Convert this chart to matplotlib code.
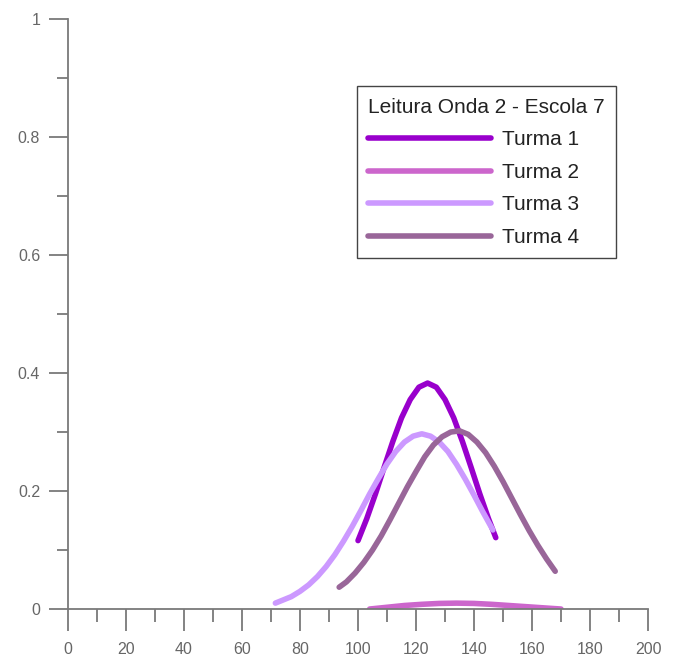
import matplotlib
matplotlib.use("Agg")
import matplotlib.pyplot as plt
from matplotlib.ticker import MultipleLocator

plt.rcParams['font.family'] = ['Liberation Sans', 'DejaVu Sans']

# Curvas de cada turma (nota x densidade)
x_t1 = [100, 103, 106, 109, 112, 115, 118, 121, 124, 127, 130, 133, 136, 139, 142, 145, 147.5]
y_t1 = [0.116, 0.153, 0.195, 0.240, 0.284, 0.324, 0.355, 0.376, 0.383, 0.376, 0.355, 0.324,
        0.284, 0.240, 0.195, 0.153, 0.121]

x_t2 = [104, 110, 116, 122, 128, 134, 140, 146, 152, 158, 164, 170]
y_t2 = [0.000, 0.003, 0.006, 0.008, 0.0095, 0.010, 0.0095, 0.008, 0.006, 0.004, 0.002, 0.000]

x_t3 = [71.5, 74, 77, 80, 83, 86, 89, 92, 95, 98, 101, 104, 107, 110, 113, 116, 119, 122,
        125, 128, 131, 134, 137, 140, 143, 146.5]
y_t3 = [0.010, 0.015, 0.021, 0.030, 0.041, 0.055, 0.072, 0.092, 0.115, 0.140, 0.167, 0.195,
        0.221, 0.246, 0.267, 0.283, 0.293, 0.297, 0.293, 0.283, 0.267, 0.245, 0.220, 0.193,
        0.165, 0.134]

x_t4 = [93.5, 96, 99, 102, 105, 108, 111, 114, 117, 120, 123, 126, 129, 132, 135, 138, 141,
        144, 147, 150, 153, 156, 159, 162, 165, 168]
y_t4 = [0.037, 0.046, 0.061, 0.079, 0.100, 0.124, 0.151, 0.179, 0.207, 0.233, 0.258, 0.278,
        0.292, 0.300, 0.302, 0.296, 0.283, 0.265, 0.242, 0.216, 0.188, 0.160, 0.133, 0.108,
        0.085, 0.064]

series = [
    ("Turma 1", x_t1, y_t1, "#9900CC"),
    ("Turma 2", x_t2, y_t2, "#CC66CC"),
    ("Turma 3", x_t3, y_t3, "#CC99FF"),
    ("Turma 4", x_t4, y_t4, "#996699"),
]

fig = plt.figure(figsize=(6.78, 6.63), dpi=100)
ax = fig.add_axes([0.1003, 0.0814, 0.8555, 0.8899])

for nome, xs, ys, cor in series:
    ax.plot(xs, ys, color=cor, lw=4, solid_capstyle='round', label=nome)

ax.set_xlim(0, 200)
ax.set_ylim(0, 1)

# eixos cruzados, so esquerdo e inferior
for lado in ['top', 'right']:
    ax.spines[lado].set_visible(False)
for lado in ['left', 'bottom']:
    ax.spines[lado].set_color('#7a7a7a')
    ax.spines[lado].set_linewidth(1.3)

ax.xaxis.set_major_locator(MultipleLocator(20))
ax.xaxis.set_minor_locator(MultipleLocator(10))
ax.yaxis.set_major_locator(MultipleLocator(0.2))
ax.yaxis.set_minor_locator(MultipleLocator(0.1))
ax.set_yticks([0, 0.2, 0.4, 0.6, 0.8, 1])
ax.set_yticklabels(['0', '0.2', '0.4', '0.6', '0.8', '1'])

ax.tick_params(axis='x', which='major', direction='out', length=16, width=1.3,
               color='#7a7a7a', labelsize=11.5, labelcolor='#666666', pad=8)
ax.tick_params(axis='x', which='minor', direction='out', length=9, width=1.3, color='#7a7a7a')
ax.tick_params(axis='y', which='major', direction='out', length=14, width=1.3,
               color='#7a7a7a', labelsize=11.5, labelcolor='#666666', pad=6)
ax.tick_params(axis='y', which='minor', direction='out', length=8, width=1.3, color='#7a7a7a')

leg = ax.legend(title="Leitura Onda 2 - Escola 7", loc='upper left',
                bbox_to_anchor=(0.498, 0.886), fontsize=15, title_fontsize=15,
                handlelength=5.9, handletextpad=0.5, labelspacing=0.65,
                borderpad=0.55, fancybox=False, framealpha=1, borderaxespad=0,
                alignment='left')
leg.get_frame().set_edgecolor('#444444')
leg.get_frame().set_linewidth(1.0)
for t in leg.get_texts():
    t.set_color('#222222')
leg.get_title().set_color('#222222')

fig.savefig("out.png", dpi=100, facecolor='white')
